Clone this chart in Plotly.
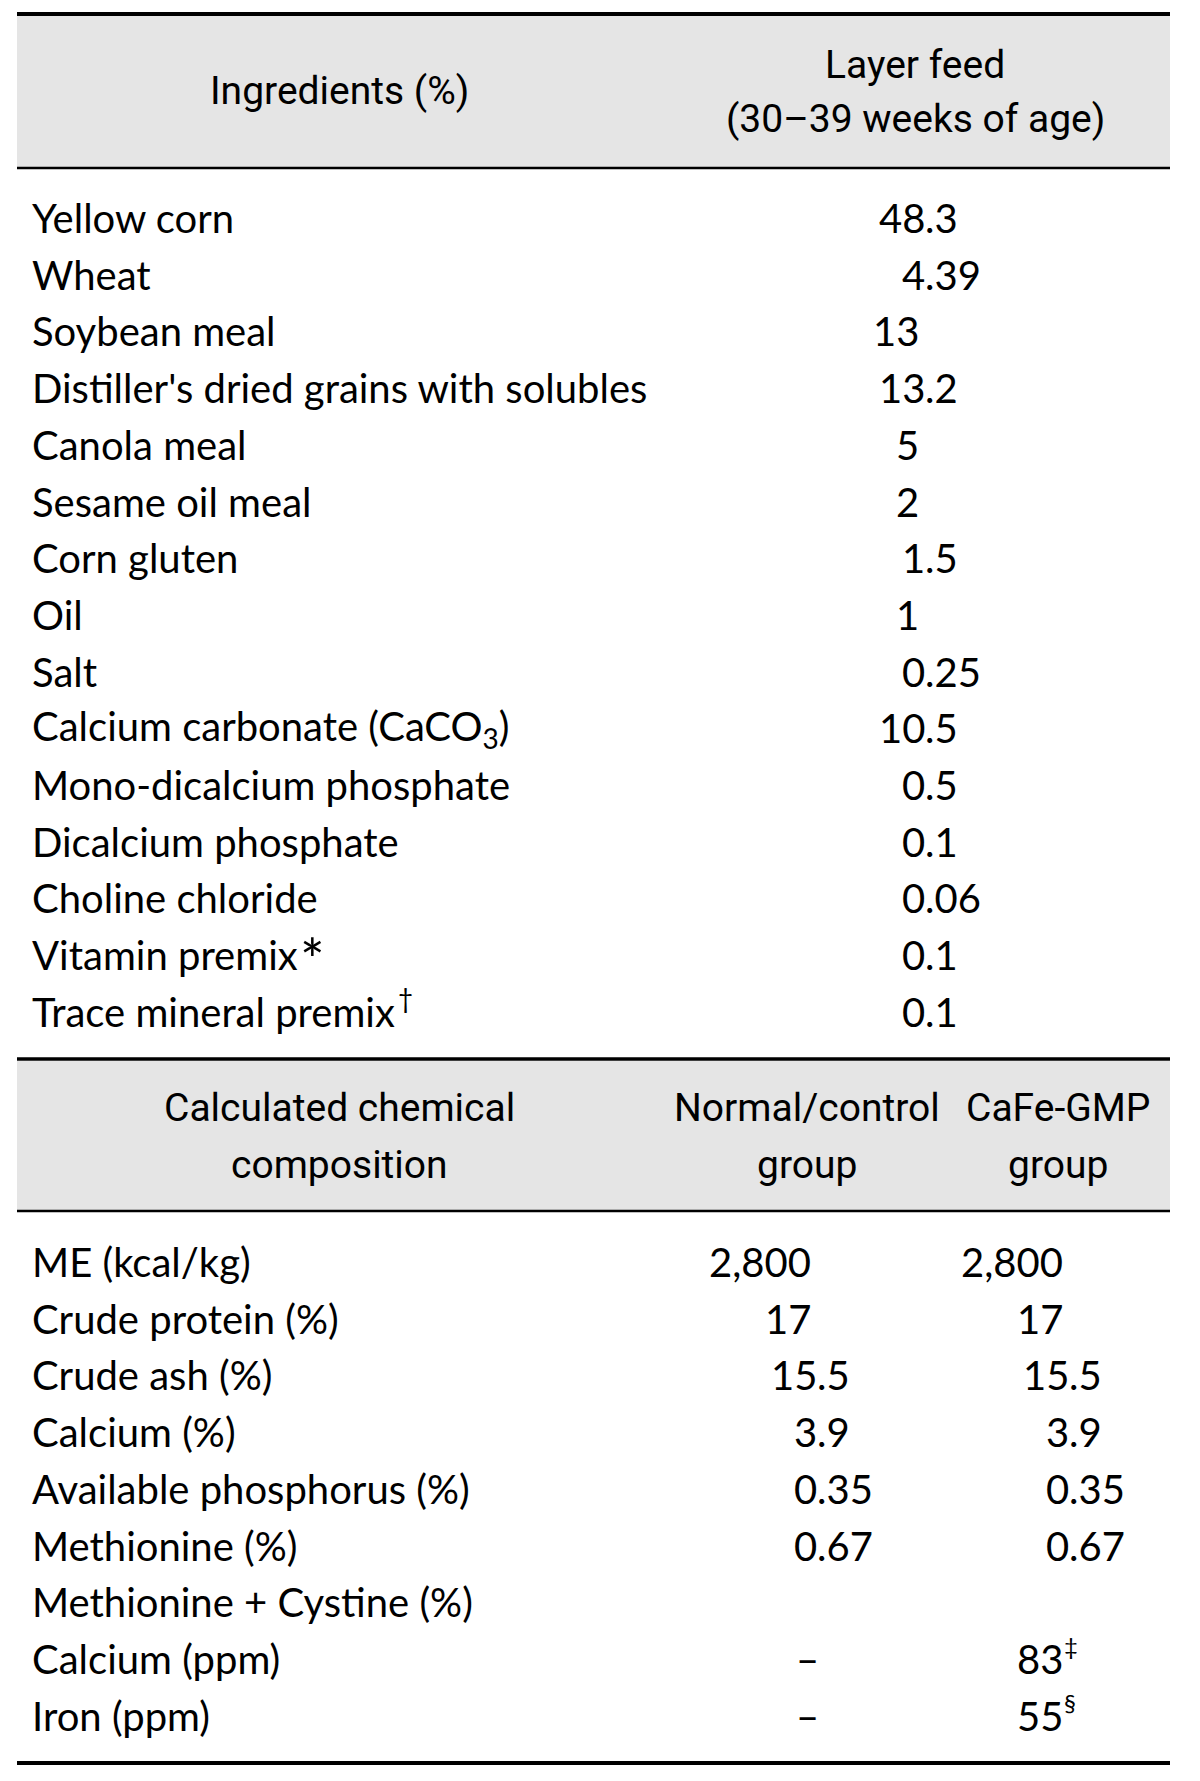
import plotly.graph_objects as go

# ---------------- data ----------------
ingredients = ["Yellow corn", "Wheat", "Soybean meal",
               "Distiller's dried grains with solubles", "Canola meal",
               "Sesame oil meal", "Corn gluten", "Oil", "Salt",
               "Calcium carbonate (CaCO<sub>3</sub>)", "Mono-dicalcium phosphate",
               "Dicalcium phosphate", "Choline chloride",
               "Vitamin premix", "Trace mineral premix"]
ingredient_marks = ["", "", "", "", "", "", "", "", "", "", "", "", "", "*", "†"]
layer_feed = ["48.3", "4.39", "13", "13.2", "5", "2", "1.5", "1", "0.25",
              "10.5", "0.5", "0.1", "0.06", "0.1", "0.1"]

chem_items = ["ME (kcal/kg)", "Crude protein (%)", "Crude ash (%)", "Calcium (%)",
              "Available phosphorus (%)", "Methionine (%)",
              "Methionine + Cystine (%)", "Calcium (ppm)", "Iron (ppm)"]
normal_group = ["2,800", "17", "15.5", "3.9", "0.35", "0.67", "", "–", "–"]
cafe_group = ["2,800", "17", "15.5", "3.9", "0.35", "0.67", "", "83", "55"]
cafe_marks = ["", "", "", "", "", "", "", "‡", "§"]

header1_left = "Ingredients (%)"
header1_right = ["Layer feed", "(30–39 weeks of age)"]
header2_left = ["Calculated chemical", "composition"]
header2_mid = ["Normal/control", "group"]
header2_right = ["CaFe-GMP", "group"]

# ---------------- layout constants ----------------
PAGE_MARGIN = 8          # browser body margin around the plot div
W, H = 1200, 1781        # page coordinates
X0, X1 = 17, 1170
BODY_FONT = "Lato"
HEAD_FONT = "Roboto"
BODY_SIZE = 40
HEAD_SIZE = 39
GRAY = "#e5e5e5"

# approximate end of the label text where a footnote mark follows
MARK_X = {"*": 300, "†": 398}
MARK_STYLE = {"*": dict(size=58, yshift=-3), "†": dict(size=26, yshift=14)}

fig = go.Figure()
fig.add_trace(go.Scatter(x=[PAGE_MARGIN, W], y=[PAGE_MARGIN, H], mode="markers",
                         marker=dict(opacity=0), hoverinfo="skip", showlegend=False))

ann = []


def text(x, y, s, anchor="left", font=BODY_FONT, size=BODY_SIZE, yshift=0):
    ann.append(dict(x=x, y=y, xref="x", yref="y", text=s, showarrow=False,
                    xanchor=anchor, yanchor="middle", borderpad=0, borderwidth=0,
                    yshift=yshift,
                    font=dict(family=font, size=size, color="black")))


def decimal(xd, y, s, mark=""):
    if s == "":
        return
    if s == "–":
        text(xd - 10, y, s, anchor="center")
        return
    if "." in s:
        ip, fp = s.split(".")
        text(xd, y, ip, anchor="right")
        text(xd, y, "." + fp, anchor="left")
    else:
        text(xd - 6, y, s, anchor="right")
        if mark:
            text(xd - 5, y, mark, anchor="left", size=24, yshift=13)


# header 1
fig.add_shape(type="rect", x0=X0, x1=X1, y0=16, y1=168, fillcolor=GRAY, line_width=0, layer="below")
fig.add_shape(type="line", x0=X0, x1=X1, y0=14, y1=14, line=dict(color="black", width=4))
fig.add_shape(type="line", x0=X0, x1=X1, y0=168, y1=168, line=dict(color="black", width=2.3))
text(339, 91, header1_left, anchor="center", font=HEAD_FONT, size=HEAD_SIZE)
for i, s in enumerate(header1_right):
    text(915, 65 + 54 * i, s, anchor="center", font=HEAD_FONT, size=HEAD_SIZE)

# ingredient rows
ROW0, STEP = 218, 56.7
NAME_X = 32
for i, (name, m, v) in enumerate(zip(ingredients, ingredient_marks, layer_feed)):
    y = ROW0 + STEP * i
    text(NAME_X, y, name)
    if m:
        text(MARK_X[m], y, m, anchor="left", **MARK_STYLE[m])
    decimal(925, y, v)

# header 2
fig.add_shape(type="rect", x0=X0, x1=X1, y0=1061, y1=1211, fillcolor=GRAY, line_width=0, layer="below")
fig.add_shape(type="line", x0=X0, x1=X1, y0=1059, y1=1059, line=dict(color="black", width=3.5))
fig.add_shape(type="line", x0=X0, x1=X1, y0=1211, y1=1211, line=dict(color="black", width=2.3))
for i, s in enumerate(header2_left):
    text(339, 1108 + 57 * i, s, anchor="center", font=HEAD_FONT, size=HEAD_SIZE)
for i, s in enumerate(header2_mid):
    text(807, 1108 + 57 * i, s, anchor="center", font=HEAD_FONT, size=HEAD_SIZE)
for i, s in enumerate(header2_right):
    text(1058, 1108 + 57 * i, s, anchor="center", font=HEAD_FONT, size=HEAD_SIZE)

# chemical rows
ROW1 = 1262
for i, (name, a, b, m) in enumerate(zip(chem_items, normal_group, cafe_group, cafe_marks)):
    y = ROW1 + STEP * i
    text(NAME_X, y, name)
    decimal(817, y, a)
    decimal(1069, y, b, m)

fig.add_shape(type="line", x0=X0, x1=X1, y0=1763, y1=1763, line=dict(color="black", width=4))

# the plot div sits PAGE_MARGIN px inside the page, so the axes map page pixels
fig.update_layout(
    width=W - PAGE_MARGIN, height=H - PAGE_MARGIN, margin=dict(l=0, r=0, t=0, b=0),
    paper_bgcolor="white", plot_bgcolor="white",
    xaxis=dict(range=[PAGE_MARGIN, W], visible=False, fixedrange=True),
    yaxis=dict(range=[H, PAGE_MARGIN], visible=False, fixedrange=True),
    annotations=ann, showlegend=False,
)
fig.write_html("out.html")
